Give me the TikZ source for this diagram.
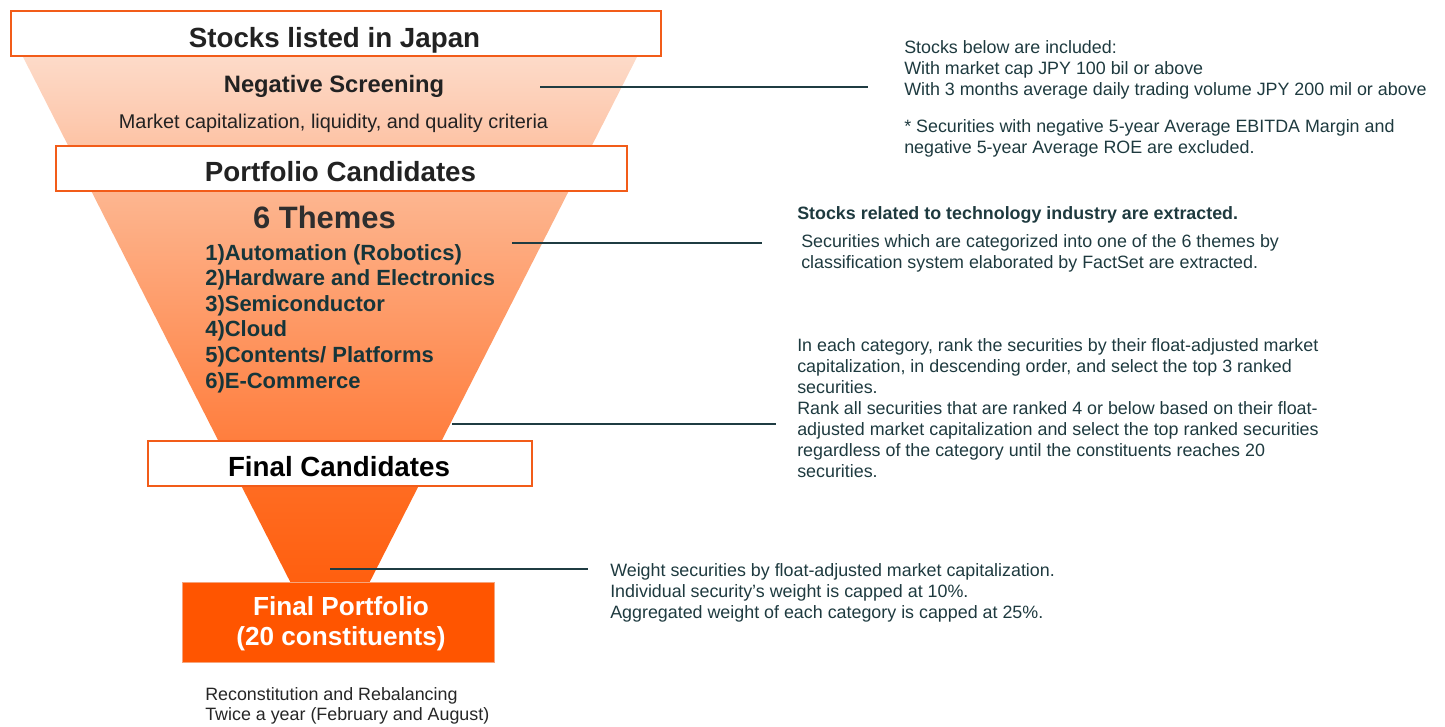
\documentclass[tikz,border=0pt]{standalone}
\usepackage{fontspec}
\setmainfont{Liberation Sans}
\usetikzlibrary{calc}

% palette
\definecolor{boxorange}{HTML}{F25C19}
\definecolor{portfolio}{HTML}{FF5500}
\definecolor{portedge}{HTML}{F6A57C}
\definecolor{leader}{HTML}{1F3C42}
\definecolor{notetext}{HTML}{1E3A3F}
\definecolor{themetext}{HTML}{16353A}
\definecolor{titletext}{HTML}{222222}
\definecolor{ftop}{HTML}{FDDBC9}
\definecolor{f120}{HTML}{FDCAB0}
\definecolor{f190}{HTML}{FDB690}
\definecolor{f440}{HTML}{FF7E3E}
\definecolor{f485}{HTML}{FF6C22}
\definecolor{fbot}{HTML}{FF5500}

% funnel gradient, light at the top and deep orange at the tip
\pgfdeclareverticalshading{funnelshade}{100bp}{%
  color(0bp)=(fbot); color(25bp)=(fbot); color(39.5bp)=(f485);
  color(43.2bp)=(f440); color(63.8bp)=(f190); color(69.6bp)=(f120);
  color(75bp)=(ftop); color(100bp)=(ftop)}

\newcommand\fsz[2]{\fontsize{#1}{#2}\selectfont}
\newcommand\noteblock[1]{\begin{tabular}[t]{@{}l@{}}#1\end{tabular}}

\tikzset{
  stagebox/.style={draw=boxorange, line width=1.5pt, fill=white, inner sep=0, anchor=north west},
  stagetitle/.style={inner sep=0, anchor=base, text=titletext, font=\bfseries\fsz{20.8}{25}},
  note/.style={inner sep=0, anchor=base west, text=notetext, font=\fsz{13.4}{15.75}},
  leaderline/.style={draw=leader, line width=1.3pt},
}

\begin{document}
\begin{tikzpicture}[x=0.75pt, y=-0.75pt]
\useasboundingbox (0,0) rectangle (1445,726);

% funnel
\shade[shading=funnelshade] (22,55) -- (638,55) -- (330,660) -- cycle;

% stage boxes
\node[stagebox, minimum width=487.5pt, minimum height=33.75pt] (stocks) at (10,10) {};
\node[stagebox, minimum width=428.25pt, minimum height=33.75pt] (cands) at (55,145) {};
\node[stagebox, minimum width=288pt, minimum height=33.75pt] (finals) at (147,440) {};
\node[draw=portedge, line width=0.75pt, fill=portfolio, inner sep=0, anchor=north west,
      minimum width=234pt, minimum height=60pt] (portbox) at (182,582) {};

% stage titles
\node[stagetitle] (stocksLabel) at (334.5,47) {Stocks listed in Japan};
\node[stagetitle, font=\bfseries\fsz{17.8}{21}] (screening) at (334,92) {Negative Screening};
\node[stagetitle, font=\fsz{14.9}{18}] (criteria) at (333.5,128) {Market capitalization, liquidity, and quality criteria};
\node[stagetitle] (candsLabel) at (340.5,181) {Portfolio Candidates};
\node[stagetitle, text=black!82, font=\bfseries\fsz{23.2}{27}] (themes) at (324.5,228) {6 Themes};
\node[inner sep=0, anchor=base west, text=themetext, font=\bfseries\fsz{16.5}{19.2}] (themeList) at (205,260)
  {\noteblock{1)Automation (Robotics)\\ 2)Hardware and Electronics\\ 3)Semiconductor\\ 4)Cloud\\ 5)Contents/ Platforms\\ 6)E-Commerce}};
\node[stagetitle, text=black] (finalsLabel) at (339,476) {Final Candidates};
\node[stagetitle, text=white, font=\bfseries\fsz{19.6}{23}] (portLabel) at (341,615) {Final Portfolio};
\node[stagetitle, text=white, font=\bfseries\fsz{19.6}{23}] (portCount) at (341,645) {(20 constituents)};
\node[note, text=black!85, font=\fsz{13.4}{15}] (rebalance) at (205,700)
  {\noteblock{Reconstitution and Rebalancing\\ Twice a year (February and August)}};

% explanatory notes
\node[note] (note1) at (904,53)
  {\noteblock{Stocks below are included:\\
   With market cap JPY 100 bil or above\\
   With 3 months average daily trading volume JPY 200 mil or above\\[12pt]
   * Securities with negative 5-year Average EBITDA Margin and\\
   negative 5-year Average ROE are excluded.}};
\node[note, font=\bfseries\fsz{13.4}{15.75}] (note2head) at (797,219)
  {Stocks related to technology industry are extracted.};
\node[note] (note2) at (801,247)
  {\noteblock{Securities which are categorized into one of the 6 themes by\\
   classification system elaborated by FactSet are extracted.}};
\node[note] (note3) at (797,351)
  {\noteblock{In each category, rank the securities by their float-adjusted market\\
   capitalization, in descending order, and select the top 3 ranked\\
   securities.\\
   Rank all securities that are ranked 4 or below based on their float-\\
   adjusted market capitalization and select the top ranked securities\\
   regardless of the category until the constituents reaches 20\\
   securities.}};
\node[note] (note4) at (610,576)
  {\noteblock{Weight securities by float-adjusted market capitalization.\\
   Individual security’s weight is capped at 10\%.\\
   Aggregated weight of each category is capped at 25\%.}};

% leader lines from the funnel to the notes
\coordinate (lead1) at (540,87);
\coordinate (lead2) at (512,243);
\coordinate (lead3) at (452,424);
\coordinate (lead4) at (330,569);
\draw[leaderline, shorten >=27pt] (lead1) -- (lead1 -| note1.west);
\draw[leaderline, shorten >=29pt] (lead2) -- (lead2 -| note2.west);
\draw[leaderline, shorten >=15.75pt] (lead3) -- (lead3 -| note3.west);
\draw[leaderline, shorten >=16.5pt] (lead4) -- (lead4 -| note4.west);
\end{tikzpicture}
\end{document}
